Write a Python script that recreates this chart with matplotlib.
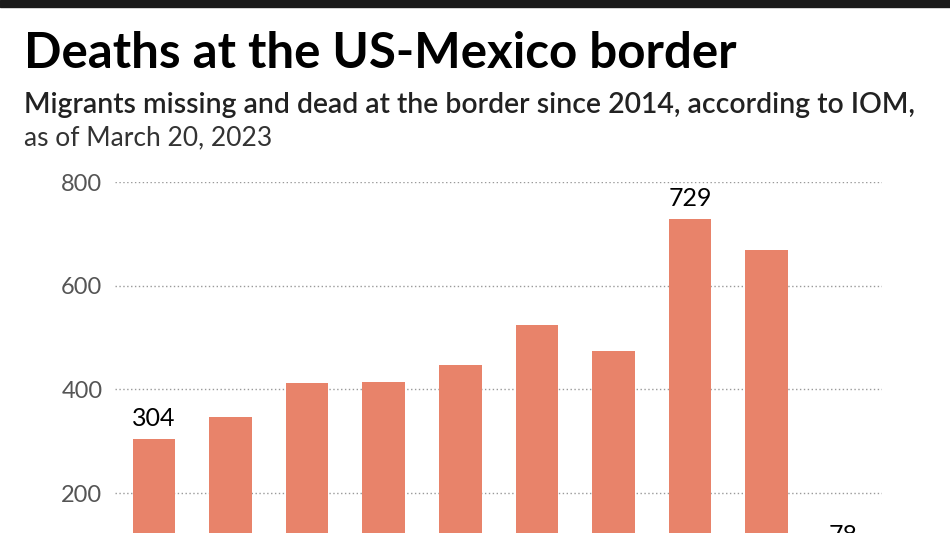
import matplotlib
matplotlib.use("Agg")
import matplotlib.pyplot as plt
from matplotlib.patches import Rectangle

years = ["2014", "2015", "2016", "2017", "2018", "2019", "2020", "2021", "2022", "2023"]
deaths = [304, 347, 412, 414, 448, 524, 475, 729, 669, 78]
labelled = {0: "304", 7: "729", 9: "78"}
yticks = [200, 400, 600, 800]

plt.rcParams['font.family'] = ['Lato', 'DejaVu Sans']

W, H = 950, 533
fig = plt.figure(figsize=(W / 100, H / 100), dpi=100)

# black band at the top
fig.patches.append(Rectangle((0, 1 - 7 / H), 1, 7 / H, transform=fig.transFigure,
                             color='#1a1a1a', zorder=5))

fig.text(24 / W, 1 - 68 / H, "Deaths at the US-Mexico border",
         fontsize=35.5, fontweight='bold', color='black', va='baseline')
fig.text(24 / W, 1 - 113 / H,
         "Migrants missing and dead at the border since 2014, according to IOM,",
         fontsize=20.4, fontweight='semibold', color='#222222', va='baseline')
fig.text(24 / W, 1 - 145 / H, "as of March 20, 2023",
         fontsize=19, color='#333333', va='baseline')

# the reference is cropped: the zero line sits below the picture's bottom edge
top_px, zero_px = 182.3, 596.6
left_px, right_px = 115, 882
ax = fig.add_axes([left_px / W, 1 - zero_px / H, (right_px - left_px) / W,
                   (zero_px - top_px) / H])

x = range(len(years))
ax.bar(x, deaths, width=0.555, color='#e8836a', zorder=2)
for i, txt in labelled.items():
    ax.text(i, deaths[i] + 18, txt, ha='center', va='bottom', fontsize=18,
            color='black')

ax.set_xlim(-0.506, 9.504)
ax.set_ylim(0, 800)
ax.set_yticks(yticks)
ax.set_xticks(list(x))
ax.set_xticklabels(years)
ax.grid(axis='y', linestyle=(0, (1, 1.8)), color='#999999', linewidth=1.0, zorder=0)
ax.tick_params(axis='y', length=0, pad=9, labelsize=17, labelcolor='#555555')
# year labels sit below the cropped bottom edge, as in the reference
ax.tick_params(axis='x', length=0, labelbottom=False)
for s in ax.spines.values():
    s.set_visible(False)

fig.savefig("out.png", dpi=100)
